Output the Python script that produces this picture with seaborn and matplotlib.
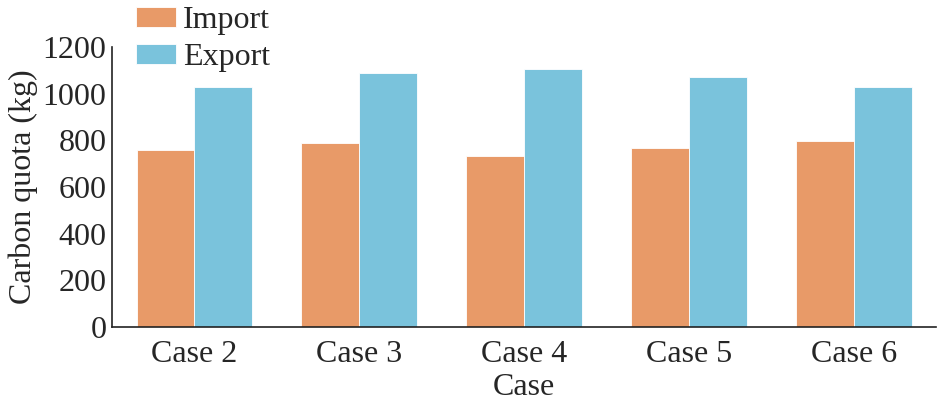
import numpy as np
import pandas as pd
import matplotlib.pyplot as plt
import matplotlib as mpl
import seaborn as sns

cases = ["Case 2", "Case 3", "Case 4", "Case 5", "Case 6"]
import_vals = [758, 788, 733, 767, 798]
export_vals = [1027, 1088, 1107, 1070, 1030]
yticks = [0, 200, 400, 600, 800, 1000, 1200]

df = pd.DataFrame({
    "Case": cases * 2,
    "Carbon quota (kg)": import_vals + export_vals,
    "Type": ["Import"] * len(cases) + ["Export"] * len(cases),
})

sns.set_style("white")
plt.rcParams['font.family'] = ['Liberation Serif', 'DejaVu Serif']

fig = plt.figure(figsize=(9.4, 4.11), dpi=100)
ax = fig.add_axes([0.119, 0.204, 0.877, 0.682])

sns.barplot(data=df, x="Case", y="Carbon quota (kg)", hue="Type",
            palette=["#E89A68", "#7AC3DC"], width=0.7, ax=ax,
            edgecolor="white", linewidth=0.6, saturation=1)

ax.set_xlim(-0.5, 4.5)
ax.set_ylim(0, 1200)
ax.set_yticks(yticks)
ax.tick_params(axis='y', direction='in', length=6, width=1.2, labelsize=23, color='#222222', pad=4)
ax.tick_params(axis='x', which='major', length=0, labelsize=23, pad=9)
ax.set_xticks(np.arange(-0.5, 5, 1), minor=True)
ax.tick_params(axis='x', which='minor', direction='in', length=7, width=1.2, color='#222222')

for s in ["top", "right"]:
    ax.spines[s].set_visible(False)
for s in ["left", "bottom"]:
    ax.spines[s].set_color('#222222')
    ax.spines[s].set_linewidth(1.2)

ax.set_xlabel("Case", fontsize=23, labelpad=3)
ax.set_ylabel("Carbon quota (kg)", fontsize=23, labelpad=3)

ax.legend(loc="upper left", bbox_to_anchor=(0.145, 0.985), bbox_transform=fig.transFigure,
          frameon=False, fontsize=23, handlelength=1.25, handleheight=0.56,
          handletextpad=0.2, labelspacing=0.25, borderaxespad=0, borderpad=0)

fig.savefig("out.png", dpi=100)
